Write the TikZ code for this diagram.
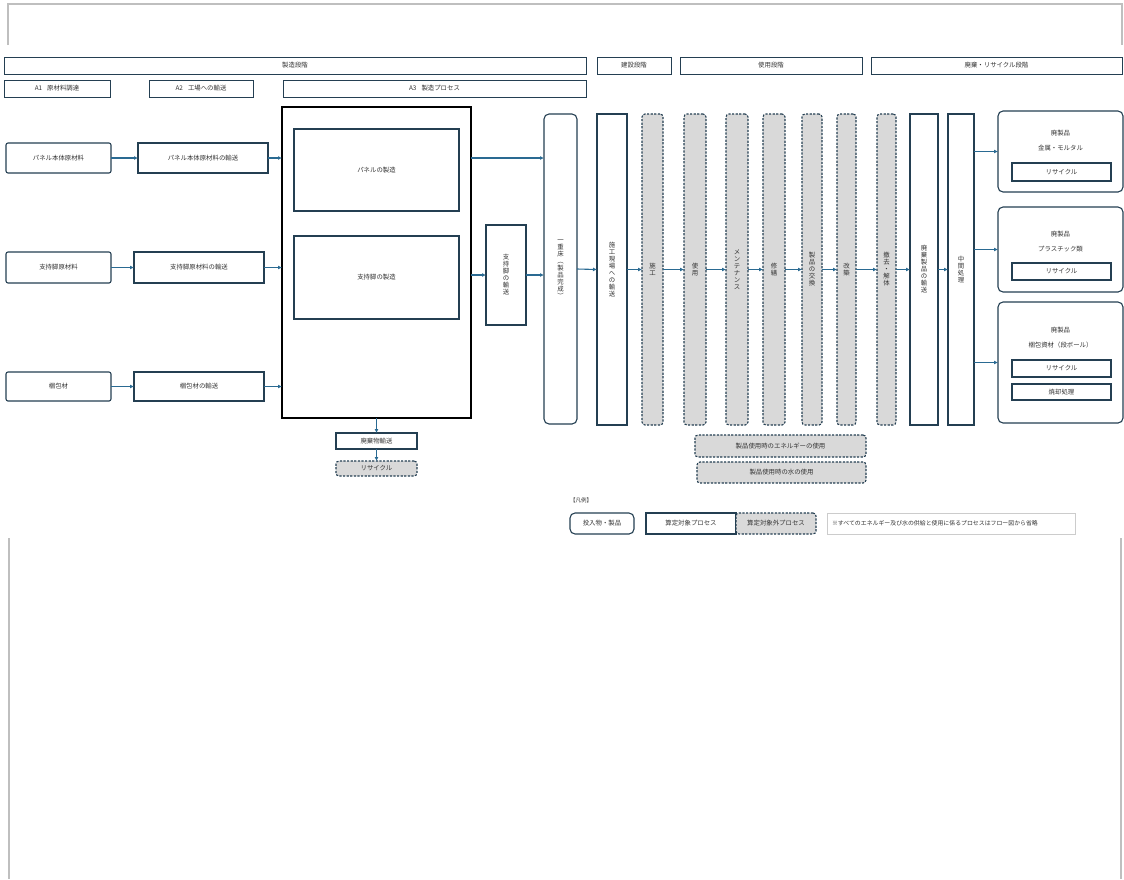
\documentclass[tikz,border=0pt]{standalone}
\usepackage{fontspec}
\setmainfont{Noto Sans CJK JP}
\usetikzlibrary{arrows.meta}
\definecolor{bc}{HTML}{243F52}
\definecolor{ac}{HTML}{2A6A92}
\definecolor{gf}{HTML}{D9D9D9}
\definecolor{tc}{HTML}{333333}
\definecolor{fr}{HTML}{BFBFBF}
\definecolor{nb}{HTML}{CCCCCC}
\newcommand\bx[7]{\node[#1, minimum width=#5pt, minimum height=#6pt] (#2) at (#3,#4) {#7};}
\tikzset{
  base/.style={inner sep=0pt, outer sep=0pt, text=tc, font=\fontsize{6.4}{7}\selectfont, align=center},
  hdr/.style={base, draw=bc, line width=0.9pt, fill=white},
  prc/.style={base, draw=bc, line width=1.1pt, fill=white},
  inp/.style={base, draw=bc, line width=1.1pt, fill=white, rounded corners=2pt},
  prd/.style={base, draw=bc, line width=1.1pt, fill=white, rounded corners=5pt},
  ext/.style={base, draw=bc, line width=1.1pt, fill=gf, dash pattern=on 2.2pt off 1.4pt, rounded corners=3pt},
  big/.style={base, draw=black, line width=1.6pt, fill=white},
  arr/.style={draw=ac, line width=1.1pt, -{Latex[length=4pt,width=4pt]}},
  lbl/.style={base, font=\fontsize{6.4}{15}\selectfont},
  frame/.style={draw=fr, line width=2.5pt},
}
\begin{document}
\begin{tikzpicture}[x=1pt, y=-1pt]
\useasboundingbox (0,0) rectangle (1124,879);
% screenshot frame
\draw[frame] (8,45) -- (8,4) -- (1122,4) -- (1122,45);
\draw[frame] (9,538) -- (9,879);
\draw[frame] (1121,538) -- (1121,879);

% headers
\bx{hdr}{h1}{295}{65.5}{582}{17}{製造段階}
\bx{hdr}{h2}{634}{65.5}{74}{17}{建設段階}
\bx{hdr}{h3}{771}{65.5}{182}{17}{使用段階}
\bx{hdr}{h4}{996.5}{65.5}{251}{17}{廃棄・リサイクル段階}
\bx{hdr}{a1}{57}{88.5}{106}{17}{A1\hspace{5pt}原材料調達}
\bx{hdr}{a2}{201}{88.5}{104}{17}{A2\hspace{5pt}工場への輸送}
\bx{hdr}{a3}{434.5}{88.5}{303}{17}{A3\hspace{5pt}製造プロセス}

% raw materials and transport
\bx{inp}{s1}{58.5}{158}{105}{30}{パネル本体原材料}
\bx{prc}{t1}{203}{158}{130}{30}{パネル本体原材料の輸送}
\bx{inp}{s2}{58.5}{267.5}{105}{31}{支持脚原材料}
\bx{prc}{t2}{199}{267.5}{130}{31}{支持脚原材料の輸送}
\bx{inp}{s3}{58.5}{386.5}{105}{29}{梱包材}
\bx{prc}{t3}{199}{386.5}{130}{29}{梱包材の輸送}

% manufacturing process
\bx{big}{big}{376.5}{262.5}{189}{311}{}
\bx{prc}{pm}{376.5}{170}{165}{82}{パネルの製造}
\bx{prc}{sm}{376.5}{277.5}{165}{83}{支持脚の製造}
\bx{prc}{tr}{506}{275}{40}{100}{支\\持\\脚\\の\\輸\\送}
\bx{prd}{floor}{560.5}{269}{33}{310}{一\\重\\床\\︵\\製\\品\\完\\成\\︶}
\bx{prc}{waste}{376.5}{441}{81}{16}{廃棄物輸送}
\bx{ext}{wr}{376.5}{468.5}{81}{15}{リサイクル}

% columns
\bx{prc}{c1}{612}{269.5}{30}{311}{施\\工\\現\\場\\へ\\の\\輸\\送}
\bx{ext}{c2}{652.5}{269.5}{21}{311}{施\\工}
\bx{ext}{c3}{695}{269.5}{22}{311}{使\\用}
\bx{ext}{c4}{737}{269.5}{22}{311}{メ\\ン\\テ\\ナ\\ン\\ス}
\bx{ext}{c5}{774}{269.5}{22}{311}{修\\繕}
\bx{ext}{c6}{812}{269.5}{20}{311}{製\\品\\の\\交\\換}
\bx{ext}{c7}{846.5}{269.5}{19}{311}{改\\築}
\bx{ext}{c8}{886.5}{269.5}{19}{311}{撤\\去\\・\\解\\体}
\bx{prc}{c9}{924}{269.5}{28}{311}{廃\\棄\\製\\品\\の\\輸\\送}
\bx{prc}{c10}{961}{269.5}{26}{311}{中\\間\\処\\理}

% end-of-life products
\bx{prd}{w1}{1060.5}{151.5}{125}{81}{}
\node[lbl] (w1t) at (1060.5,140.5) {廃製品\\金属・モルタル};
\bx{prc}{r1}{1061.5}{172}{99}{18}{リサイクル}
\bx{prd}{w2}{1060.5}{249.5}{125}{85}{}
\node[lbl] (w2t) at (1060.5,241.5) {廃製品\\プラスチック類};
\bx{prc}{r2}{1061.5}{271.5}{99}{17}{リサイクル}
\bx{prd}{w3}{1060.5}{362.5}{125}{121}{}
\node[lbl] (w3t) at (1060.5,338) {廃製品\\梱包資材（段ボール）};
\bx{prc}{r3}{1061.5}{368.5}{99}{17}{リサイクル}
\bx{prc}{inc}{1061.5}{392}{99}{16}{焼却処理}

% energy / water
\bx{ext}{e1}{780.5}{446}{171}{22}{製品使用時のエネルギーの使用}
\bx{ext}{e2}{781.5}{472.5}{169}{21}{製品使用時の水の使用}

% legend
\node[base, font=\fontsize{5.5}{6}\selectfont] (lg) at (581,500) {【凡例】};
\bx{prd}{l1}{602}{523.5}{64}{21}{投入物・製品}
\bx{prc}{l2}{691}{523.5}{90}{21}{算定対象プロセス}
\bx{ext}{l3}{776}{523.5}{80}{21}{算定対象外プロセス}
\node[base, draw=nb, line width=0.8pt, fill=white, align=left, text width=238pt, inner xsep=5pt, minimum height=21pt, font=\fontsize{5.9}{7}\selectfont] (l4) at (951,523.5) {※すべてのエネルギー及び水の供給と使用に係るプロセスはフロー図から省略};

% arrows
\draw[arr] (s1.east) -- (t1.west);
\draw[arr] (s2.east) -- (t2.west);
\draw[arr] (s3.east) -- (t3.west);
\draw[arr] (t1.east) -- (t1.east -| big.west);
\draw[arr] (t2.east) -- (t2.east -| big.west);
\draw[arr] (t3.east) -- (t3.east -| big.west);
\draw[arr] (big.east |- t1.east) -- (floor.west |- t1.east);
\draw[arr] (big.east |- tr.west) -- (tr.west);
\draw[arr] (tr.east) -- (floor.west |- tr.east);
\draw[arr] (big.south) -- (waste.north);
\draw[arr] (waste.south) -- (wr.north);
\draw[arr] (floor.east) -- (c1.west);
\draw[arr] (c1.east) -- (c2.west);
\draw[arr] (c2.east) -- (c3.west);
\draw[arr] (c3.east) -- (c4.west);
\draw[arr] (c4.east) -- (c5.west);
\draw[arr] (c5.east) -- (c6.west);
\draw[arr] (c6.east) -- (c7.west);
\draw[arr] (c7.east) -- (c8.west);
\draw[arr] (c8.east) -- (c9.west);
\draw[arr] (c9.east) -- (c10.west);
\draw[arr] (c10.east |- w1.west) -- (w1.west);
\draw[arr] (c10.east |- w2.west) -- (w2.west);
\draw[arr] (c10.east |- w3.west) -- (w3.west);
\end{tikzpicture}
\end{document}
